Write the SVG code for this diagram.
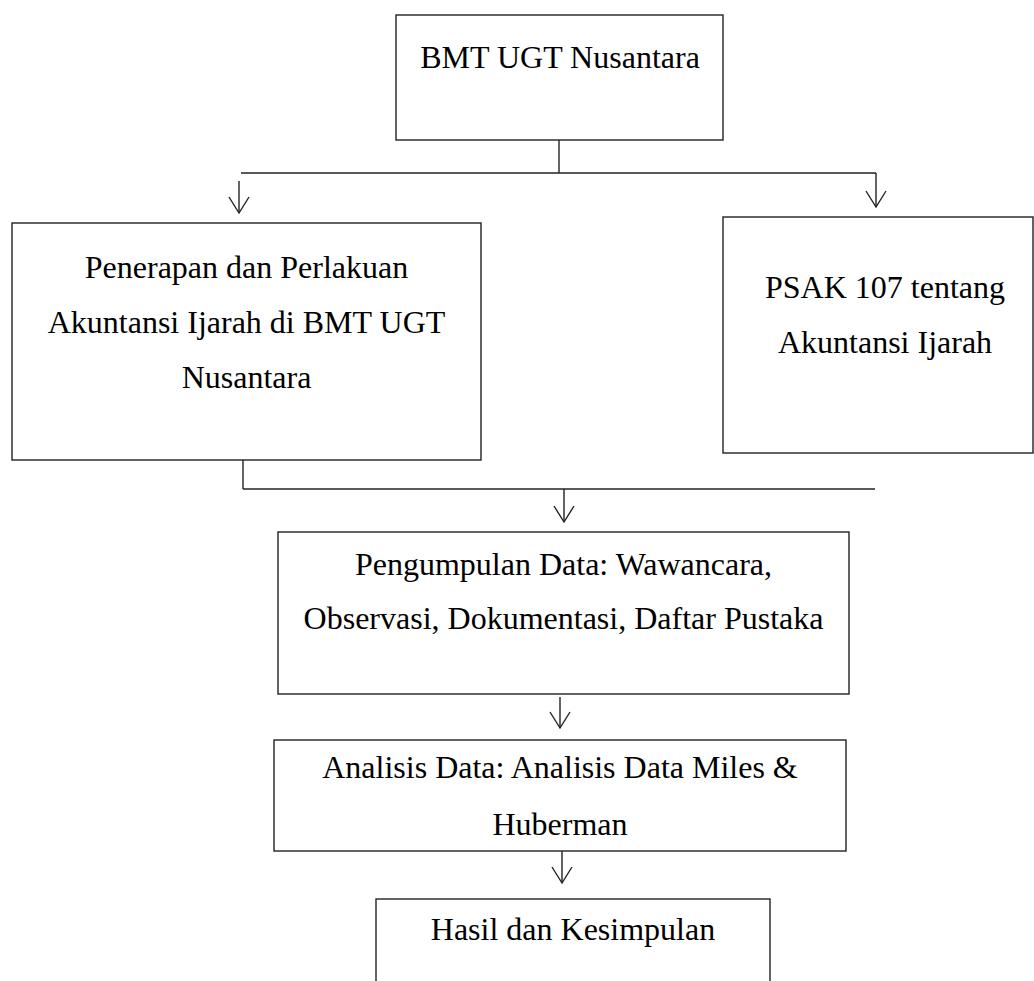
<svg xmlns="http://www.w3.org/2000/svg" width="1034" height="981" viewBox="0 0 1034 981">
<style>
.box{fill:#fff;stroke:#222;stroke-width:1.4}
.ln{fill:none;stroke:#222;stroke-width:1.4}
.t{font-family:"Liberation Serif","Times New Roman",serif;font-size:32px;fill:#000;text-anchor:middle}
</style>
<defs>
<marker id="ah" viewBox="-18 -11 20 22" refX="0" refY="0" markerWidth="20" markerHeight="22" markerUnits="userSpaceOnUse" orient="auto">
<path d="M-16,-10 L0,0 L-16,10" fill="none" stroke="#222" stroke-width="1.4"/>
</marker>
</defs>
<rect width="1034" height="981" fill="#fff"/>
<g id="connectors">
<line class="ln" x1="559" y1="140" x2="559" y2="173"/>
<line class="ln" x1="241" y1="173" x2="876" y2="173"/>
<path class="ln" d="M239,181 V213" marker-end="url(#ah)"/>
<path class="ln" d="M876,173 V207" marker-end="url(#ah)"/>
<line class="ln" x1="243" y1="457" x2="243" y2="489"/>
<line class="ln" x1="243" y1="489" x2="875" y2="489"/>
<path class="ln" d="M564,489 V522" marker-end="url(#ah)"/>
<path class="ln" d="M560,697 V728" marker-end="url(#ah)"/>
<path class="ln" d="M562,851 V883" marker-end="url(#ah)"/>
</g>
<g id="bmt">
<rect class="box" x="396" y="15" width="327" height="125"/>
<text class="t" x="560" y="68">BMT UGT Nusantara</text>
</g>
<g id="penerapan">
<rect class="box" x="12" y="223" width="469" height="237"/>
<text class="t" x="246.5" y="278">Penerapan dan Perlakuan</text>
<text class="t" x="246.5" y="333">Akuntansi Ijarah di BMT UGT</text>
<text class="t" x="246.5" y="388">Nusantara</text>
</g>
<g id="psak">
<rect class="box" x="723" y="217" width="310" height="236"/>
<text class="t" x="885" y="298">PSAK 107 tentang</text>
<text class="t" x="885" y="353">Akuntansi Ijarah</text>
</g>
<g id="pengumpulan">
<rect class="box" x="278" y="532" width="571" height="162"/>
<text class="t" x="563.5" y="575">Pengumpulan Data: Wawancara,</text>
<text class="t" x="563.5" y="629">Observasi, Dokumentasi, Daftar Pustaka</text>
</g>
<g id="analisis">
<rect class="box" x="274" y="740" width="572" height="111"/>
<text class="t" x="560" y="778">Analisis Data: Analisis Data Miles &amp;</text>
<text class="t" x="560" y="835">Huberman</text>
</g>
<g id="hasil">
<rect class="box" x="376" y="899" width="394" height="100"/>
<text class="t" x="573" y="940">Hasil dan Kesimpulan</text>
</g>
</svg>
